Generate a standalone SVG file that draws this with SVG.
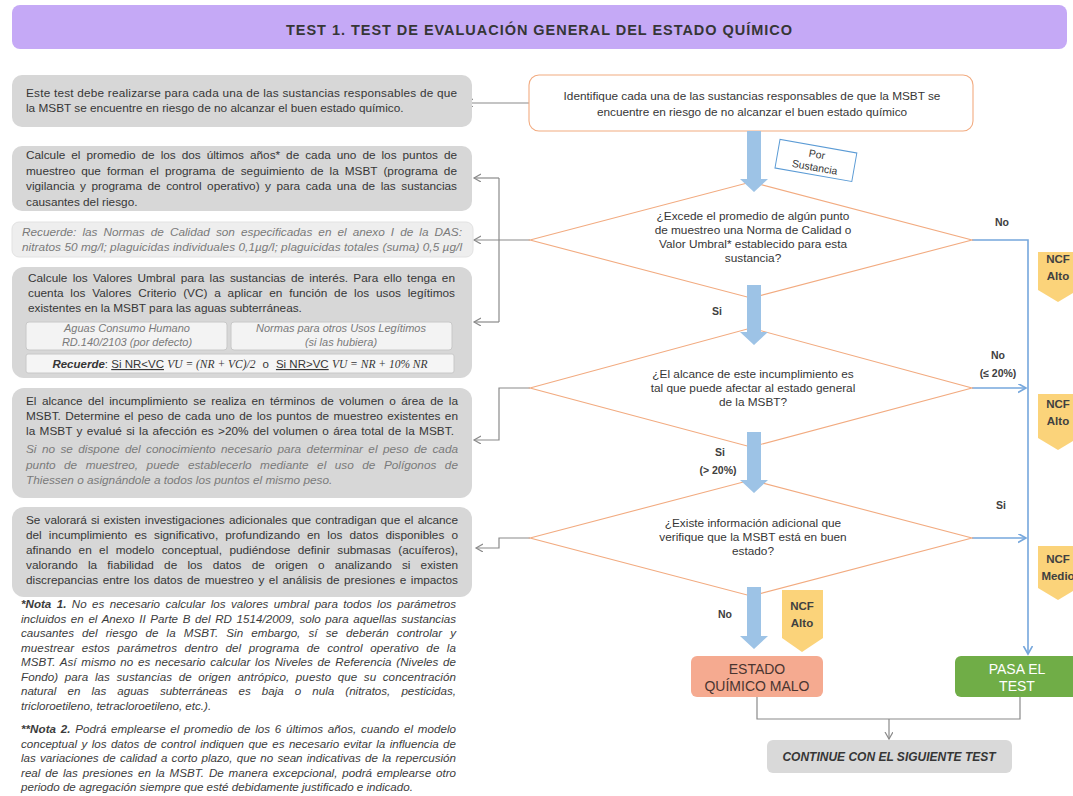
<svg xmlns="http://www.w3.org/2000/svg" width="1073" height="796" viewBox="0 0 1073 796">
<defs>
<style>
text{font-family:"Liberation Sans",Arial,sans-serif;fill:#363636}
.t{font-size:11.8px}
.it{font-size:11.8px;font-style:italic}
.n{font-size:11.6px;font-style:italic;fill:#3c3c3c}
.gi{fill:#7a7a7a}
.c{text-anchor:middle}
.b{font-weight:bold}
.lbl{font-size:10.5px;font-weight:bold;text-anchor:middle;fill:#404040}
.tag{font-size:11.5px;font-weight:bold;text-anchor:middle;fill:#404040}
.gbox{fill:#d7d7d7}
.dia{fill:#fff;stroke:#f2ab80;stroke-width:1.1}
.thick{fill:#9dc3e6}
.gl{fill:none;stroke:#8a8a8a;stroke-width:1.2}
.bl{fill:none;stroke:#76a7dc;stroke-width:1.6}
.ncf{fill:#fbd37a}
</style>
<marker id="ag" markerUnits="userSpaceOnUse" markerWidth="12" markerHeight="12" refX="7" refY="4" orient="auto"><path d="M0,0 L7,4 L0,8" fill="none" stroke="#8a8a8a" stroke-width="1.2"/></marker>
<marker id="ab" markerUnits="userSpaceOnUse" markerWidth="12" markerHeight="12" refX="8" refY="4.5" orient="auto"><path d="M0,0 L8,4.5 L0,9" fill="none" stroke="#76a7dc" stroke-width="1.6"/></marker>
</defs>
<rect width="1073" height="796" fill="#fff"/>

<g id="title">
<rect x="12" y="5" width="1055" height="44" rx="8" fill="#c5a9f6"/>
<text x="539" y="35" class="c b" style="font-size:14.5px" textLength="506" lengthAdjust="spacing">TEST 1. TEST DE EVALUACIÓN GENERAL DEL ESTADO QUÍMICO</text>
</g>

<g id="connectors">
<path class="gl" d="M529,103 H466" marker-end="url(#ag)"/>
<path class="gl" d="M530,240 H474" marker-end="url(#ag)"/>
<path class="gl" d="M499,178 V322"/>
<path class="gl" d="M499,178 H474" marker-end="url(#ag)"/>
<path class="gl" d="M499,322 H474" marker-end="url(#ag)"/>
<path class="gl" d="M530,388 H499 V440 H474" marker-end="url(#ag)"/>
<path class="gl" d="M530,538 H499 V548 H476" marker-end="url(#ag)"/>
<path class="bl" d="M972,240 H1028 V654" marker-end="url(#ab)"/>
<path class="bl" d="M972,388 H1026" marker-end="url(#ab)"/>
<path class="bl" d="M972,538 H1026" marker-end="url(#ab)"/>
<path class="gl" d="M757,697 V719 H1020 V697"/>
<path class="gl" d="M889,719 V739" marker-end="url(#ag)"/>
</g>

<g id="box1">
<rect class="gbox" x="12" y="75" width="460" height="52" rx="10"/>
<text class="t" x="26" y="97" textLength="431" lengthAdjust="spacing">Este test debe realizarse  para cada  una de las sustancias responsables de que</text>
<text class="t" x="26" y="112">la MSBT se encuentre en riesgo de no alcanzar el buen estado químico.</text>
</g>

<g id="box2">
<rect class="gbox" x="12" y="146" width="460" height="65" rx="10"/>
<text class="t" x="26" y="159" style="word-spacing:2.7px" textLength="431" lengthAdjust="spacing">Calcule el promedio de los dos últimos años* de cada uno de los puntos de</text>
<text class="t" x="26" y="174.5" style="word-spacing:2.75px" textLength="431" lengthAdjust="spacing">muestreo que forman el programa de seguimiento de la MSBT (programa de</text>
<text class="t" x="26" y="190" style="word-spacing:2.25px" textLength="431" lengthAdjust="spacing">vigilancia y programa de control operativo) y para cada una de las sustancias</text>
<text class="t" x="26" y="205.5">causantes del riesgo.</text>
</g>

<g id="recuerde">
<rect x="12" y="222" width="461" height="35" rx="7" fill="#eeeeee" stroke="#e2e2e2"/>
<text class="it gi" x="22" y="236" style="word-spacing:2.77px" textLength="440" lengthAdjust="spacing">Recuerde: las Normas de Calidad son especificadas en el anexo I de la DAS:</text>
<text class="it gi" x="22" y="251" textLength="440" lengthAdjust="spacing">nitratos 50 mg/l; plaguicidas individuales 0,1µg/l; plaguicidas totales (suma) 0,5 µg/l</text>
</g>

<g id="box4">
<rect class="gbox" x="12" y="267" width="460" height="111" rx="12"/>
<text class="t" x="28" y="282" style="word-spacing:1.9px" textLength="427" lengthAdjust="spacing">Calcule los Valores Umbral para las sustancias de interés. Para ello tenga en</text>
<text class="t" x="28" y="297" style="word-spacing:3.5px" textLength="427" lengthAdjust="spacing">cuenta los Valores Criterio (VC) a aplicar en función de los usos legítimos</text>
<text class="t" x="28" y="312">existentes en la MSBT para las aguas subterráneas.</text>
<rect x="26" y="322" width="201" height="28" rx="3" fill="#f3f3f3" stroke="#c8c8c8"/>
<rect x="231" y="322" width="221" height="28" rx="3" fill="#f3f3f3" stroke="#c8c8c8"/>
<text class="it gi c" x="127" y="332" style="font-size:11px">Aguas Consumo Humano</text>
<text class="it gi c" x="127" y="346" style="font-size:11px">RD.140/2103 (por defecto)</text>
<text class="it gi c" x="341" y="332" style="font-size:11px">Normas para otros Usos Legítimos</text>
<text class="it gi c" x="341" y="346" style="font-size:11px">(si las hubiera)</text>
<rect x="26" y="354" width="428" height="19" rx="2" fill="#f5f5f5" stroke="#c8c8c8"/>
<text x="240" y="368" class="c" style="font-size:11.5px"><tspan font-weight="bold" font-style="italic">Recuerde</tspan>: <tspan text-decoration="underline">Si NR&lt;VC</tspan> <tspan font-family="Liberation Serif" font-style="italic">VU = (NR + VC)/2</tspan><tspan dx="7">o</tspan><tspan dx="7" text-decoration="underline">Si NR&gt;VC</tspan> <tspan font-family="Liberation Serif" font-style="italic">VU = NR + 10% NR</tspan></text>
</g>

<g id="box5">
<rect class="gbox" x="12" y="388" width="460" height="110" rx="12"/>
<text class="t" x="26" y="405" style="word-spacing:2.15px" textLength="432" lengthAdjust="spacing">El alcance del incumplimiento se realiza en términos de volumen o área de la</text>
<text class="t" x="26" y="420" style="word-spacing:1px" textLength="432" lengthAdjust="spacing">MSBT. Determine el peso de cada uno de los puntos de muestreo existentes en</text>
<text class="t" x="26" y="435" style="word-spacing:1px" textLength="428" lengthAdjust="spacing">la MSBT y evalué si la afección es &gt;20% del volumen o área total de la MSBT.</text>
<text class="it gi" x="26" y="453" style="word-spacing:2.1px" textLength="432" lengthAdjust="spacing">Si no se dispone del conocimiento necesario para determinar el peso de cada</text>
<text class="it gi" x="26" y="469" style="word-spacing:5.2px" textLength="432" lengthAdjust="spacing">punto de muestreo, puede establecerlo mediante el uso de Polígonos de</text>
<text class="it gi" x="26" y="484">Thiessen o asignándole a todos los puntos el mismo peso.</text>
</g>

<g id="box6">
<rect class="gbox" x="12" y="507" width="460" height="90" rx="12"/>
<text class="t" x="26" y="524" style="word-spacing:1px" textLength="432" lengthAdjust="spacing">Se valorará si existen investigaciones adicionales que contradigan que el alcance</text>
<text class="t" x="26" y="539" style="word-spacing:3.85px" textLength="432" lengthAdjust="spacing">del incumplimiento es significativo, profundizando en los datos disponibles o</text>
<text class="t" x="26" y="554" style="word-spacing:4.1px" textLength="432" lengthAdjust="spacing">afinando en el modelo conceptual, pudiéndose definir submasas (acuíferos),</text>
<text class="t" x="26" y="569" style="word-spacing:6.9px" textLength="432" lengthAdjust="spacing">valorando la fiabilidad de los datos de origen o analizando si existen</text>
<text class="t" x="26" y="584" style="word-spacing:1.25px" textLength="432" lengthAdjust="spacing">discrepancias entre los datos de muestreo y el análisis de presiones e impactos</text>
</g>

<g id="notes">
<text class="n" x="21" y="608" style="word-spacing:2.2px" textLength="435" lengthAdjust="spacing"><tspan font-weight="bold">*Nota 1.</tspan> No es necesario calcular los valores umbral para todos los parámetros</text>
<text class="n" x="21" y="622.5" style="word-spacing:1.4px" textLength="435" lengthAdjust="spacing">incluidos en el Anexo II Parte B del RD 1514/2009, solo para aquellas sustancias</text>
<text class="n" x="21" y="637" style="word-spacing:4.9px" textLength="435" lengthAdjust="spacing">causantes del riesgo de la MSBT. Sin embargo, sí se deberán controlar y</text>
<text class="n" x="21" y="651.5" style="word-spacing:4.1px" textLength="435" lengthAdjust="spacing">muestrear  estos parámetros dentro del programa de control operativo de la</text>
<text class="n" x="21" y="666" style="word-spacing:1.5px" textLength="435" lengthAdjust="spacing">MSBT. Así mismo no es necesario calcular los Niveles de Referencia (Niveles de</text>
<text class="n" x="21" y="680.5" style="word-spacing:3.2px" textLength="435" lengthAdjust="spacing">Fondo)  para las sustancias de origen antrópico, puesto que su concentración</text>
<text class="n" x="21" y="695" style="word-spacing:7.9px" textLength="435" lengthAdjust="spacing">natural en las aguas subterráneas es baja o nula (nitratos, pesticidas,</text>
<text class="n" x="21" y="709.5">tricloroetileno, tetracloroetileno, etc.).</text>
<text class="n" x="21" y="733" style="word-spacing:1.4px" textLength="435" lengthAdjust="spacing"><tspan font-weight="bold">**Nota 2.</tspan> Podrá emplearse el promedio de los 6 últimos años, cuando el modelo</text>
<text class="n" x="21" y="747.5" style="word-spacing:1.27px" textLength="435" lengthAdjust="spacing">conceptual y los datos de control indiquen que es necesario evitar la influencia de</text>
<text class="n" x="21" y="762" style="word-spacing:1px" textLength="435" lengthAdjust="spacing">las variaciones de calidad a corto plazo, que no sean indicativas de la repercusión</text>
<text class="n" x="21" y="776.5" style="word-spacing:1.6px" textLength="435" lengthAdjust="spacing">real de las presiones en la MSBT. De manera excepcional, podrá emplearse otro</text>
<text class="n" x="21" y="791">periodo de agregación siempre que esté debidamente justificado e indicado.</text>
</g>

<g id="identify">
<rect x="529" y="75" width="444" height="56" rx="10" fill="#fff" stroke="#f2ab80" stroke-width="1.1"/>
<text class="t c" x="752" y="100">Identifique cada una de las sustancias responsables de que la MSBT se</text>
<text class="t c" x="752" y="116">encuentre en riesgo de no alcanzar el buen estado químico</text>
</g>

<g id="decision1">
<polygon class="dia" points="530,240 751,182 972,240 751,298"/>
<text class="t c" x="753" y="220">¿Excede el promedio de algún  punto</text>
<text class="t c" x="753" y="234">de muestreo una Norma de Calidad o</text>
<text class="t c" x="753" y="248">Valor Umbral* establecido para esta</text>
<text class="t c" x="753" y="262">sustancia?</text>
</g>

<g id="decision2">
<polygon class="dia" points="530,388 751,328 972,388 751,447"/>
<text class="t c" x="753" y="378">¿El alcance de este incumplimiento  es</text>
<text class="t c" x="753" y="392">tal que puede afectar al estado general</text>
<text class="t c" x="753" y="406">de la MSBT?</text>
</g>

<g id="decision3">
<polygon class="dia" points="530,538 751,480 972,538 751,596"/>
<text class="t c" x="753" y="527">¿Existe información adicional que</text>
<text class="t c" x="753" y="541">verifique que la MSBT está en buen</text>
<text class="t c" x="753" y="555">estado?</text>
</g>

<g id="flow-arrows">
<polygon class="thick" points="747,131 761,131 761,179 768,179 754,192 740,179 747,179"/>
<polygon class="thick" points="747,285 761,285 761,332 768,332 754,345 740,332 747,332"/>
<polygon class="thick" points="747,432 761,432 761,480 768,480 754,493 740,480 747,480"/>
<polygon class="thick" points="747,587 761,587 761,636 768,636 754,649 740,636 747,636"/>
</g>

<g id="por-sustancia" transform="rotate(10 816 160)">
<rect x="777" y="146" width="78" height="29" fill="#fff" stroke="#5b9bd5" stroke-width="1"/>
<text class="c" x="816" y="158" style="font-size:10.5px">Por</text>
<text class="c" x="816" y="171" style="font-size:10.5px">Sustancia</text>
</g>

<g id="labels">
<text class="lbl" x="1002" y="226">No</text>
<text class="lbl" x="998" y="359">No</text>
<text class="lbl" x="998" y="377">(≤ 20%)</text>
<text class="lbl" x="1001" y="509">Si</text>
<text class="lbl" x="717" y="315">Si</text>
<text class="lbl" x="720" y="456">Si</text>
<text class="lbl" x="718" y="474">(&gt; 20%)</text>
<text class="lbl" x="725" y="618">No</text>
</g>

<g id="ncf1">
<polygon class="ncf" points="1038,252 1078,252 1078,290 1058,302 1038,290"/>
<text class="tag" x="1058" y="263">NCF</text>
<text class="tag" x="1058" y="280">Alto</text>
</g>
<g id="ncf2">
<polygon class="ncf" points="1038,394 1078,394 1078,438 1058,450 1038,438"/>
<text class="tag" x="1058" y="408">NCF</text>
<text class="tag" x="1058" y="425">Alto</text>
</g>
<g id="ncf3">
<polygon class="ncf" points="1038,546 1078,546 1078,588 1058,600 1038,588"/>
<text class="tag" x="1058" y="563">NCF</text>
<text class="tag" x="1058" y="580">Medio</text>
</g>
<g id="ncf4">
<polygon class="ncf" points="782,590 823,590 823,638 802,652 782,638"/>
<text class="tag" x="802" y="610">NCF</text>
<text class="tag" x="802" y="627">Alto</text>
</g>

<g id="estado-malo">
<rect x="691" y="656" width="132" height="41" rx="6" fill="#f5aa90"/>
<text class="c" x="757" y="674" style="font-size:14px;fill:#4a3530">ESTADO</text>
<text class="c" x="757" y="691" style="font-size:14px;fill:#4a3530">QUÍMICO MALO</text>
</g>

<g id="pasa-test">
<rect x="955" y="656" width="128" height="41" rx="6" fill="#70ad47"/>
<text class="c" x="1017" y="674" style="font-size:14px;fill:#fff">PASA  EL</text>
<text class="c" x="1017" y="691" style="font-size:14px;fill:#fff">TEST</text>
</g>

<g id="continue">
<rect x="767" y="740" width="245" height="33" rx="6" fill="#d9d9d9"/>
<text class="c b" x="889" y="761" style="font-size:12px;font-style:italic">CONTINUE CON EL SIGUIENTE TEST</text>
</g>
</svg>
